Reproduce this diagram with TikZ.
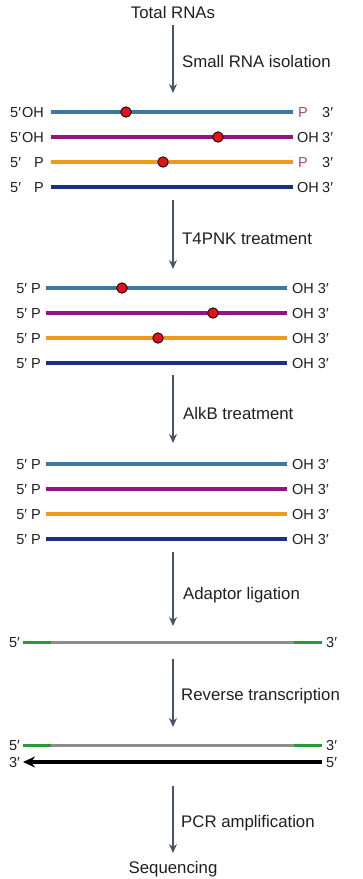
\documentclass[tikz,border=0pt]{standalone}
\usepackage{fontspec}
\setmainfont{Liberation Sans}
\usetikzlibrary{arrows.meta,positioning,calc}

\definecolor{rnablue}{HTML}{3B78A6}
\definecolor{rnapurple}{HTML}{8E1782}
\definecolor{rnaorange}{HTML}{F29A17}
\definecolor{rnanavy}{HTML}{1E2D86}
\definecolor{adaptgreen}{HTML}{2A983A}
\definecolor{insertgray}{HTML}{8C8C8C}
\definecolor{arrowgray}{HTML}{4A5467}
\definecolor{lesionred}{HTML}{E5101B}
\definecolor{phosmag}{HTML}{B5427C}

\begin{document}
\begin{tikzpicture}[x=1pt,y=-1pt,
    steparrow/.style={draw=arrowgray,line width=2.4pt,-{Stealth[length=9pt,width=8pt]}},
    steplabel/.style={font=\fontsize{16.8}{19}\selectfont,text=black!88,anchor=west,
      inner sep=0pt,text height=12pt,text depth=0pt},
    endlabel/.style={font=\fontsize{14.5}{17}\selectfont,text=black!88,
      inner sep=0pt,text height=10.4pt,text depth=0pt},
    strand/.style={line width=3.6pt},
    lesion/.style={circle,fill=lesionred,draw=black,line width=0.8pt,
      minimum size=10.5pt,inner sep=0pt}]
  \useasboundingbox (0,0) rectangle (363,879);

  % start and end of the workflow
  \node[steplabel,anchor=center] (total) at (173,12) {Total RNAs};
  \node[steplabel,anchor=center] (seq) at (173,867) {Sequencing};

  % step arrows
  \coordinate (a1s) at (173,25);  \coordinate (a1e) at (173,93);
  \coordinate (a2s) at (173,200); \coordinate (a2e) at (173,269);
  \coordinate (a3s) at (173,375); \coordinate (a3e) at (173,443);
  \coordinate (a4s) at (173,552); \coordinate (a4e) at (173,626);
  \coordinate (a5s) at (173,659); \coordinate (a5e) at (173,727);
  \coordinate (a6s) at (173,786); \coordinate (a6e) at (173,853);
  \foreach \i in {1,...,6}
    \draw[steparrow] (a\i s) -- (a\i e);
  \node[steplabel] (isol) at (182,61) {Small RNA isolation};
  \node[steplabel] (pnk) at (182,238) {T4PNK treatment};
  \node[steplabel] (alkb) at (183,413) {AlkB treatment};
  \node[steplabel] (lig) at (183,593) {Adaptor ligation};
  \node[steplabel] (rt) at (181,694) {Reverse transcription};
  \node[steplabel] (pcr) at (181,821) {PCR amplification};

  % small RNAs after isolation
  \foreach \y/\c [count=\i] in {112/rnablue,137/rnapurple,162/rnaorange,187/rnanavy}{
    \coordinate (s1\i) at (51,\y);
    \coordinate (e1\i) at (293,\y);
    \draw[strand,\c] (s1\i) -- (e1\i);
    \node[endlabel,anchor=west] (f1\i) at (10,\y) {5′};
    \node[endlabel,anchor=west] (t1\i) at (322,\y) {3′};
  }
  \node[endlabel,anchor=east] (l11) at (44,112) {OH};
  \node[endlabel,anchor=east] (l12) at (44,137) {OH};
  \node[endlabel,anchor=east] (l13) at (44,162) {P};
  \node[endlabel,anchor=east] (l14) at (44,187) {P};
  \node[endlabel,anchor=west,text=phosmag] (r11) at (298,112) {P};
  \node[endlabel,anchor=west] (r12) at (297,137) {OH};
  \node[endlabel,anchor=west,text=phosmag] (r13) at (298,162) {P};
  \node[endlabel,anchor=west] (r14) at (297,187) {OH};
  \node[lesion] (d11) at (126,112) {};
  \node[lesion] (d12) at (218,137) {};
  \node[lesion] (d13) at (163,162) {};

  % after T4PNK and after AlkB
  \foreach \g/\y/\c [count=\i] in {2/288/rnablue,2/313/rnapurple,2/338/rnaorange,2/363/rnanavy,
                                   3/464/rnablue,3/489/rnapurple,3/514/rnaorange,3/539/rnanavy}{
    \coordinate (s\g\i) at (46,\y);
    \coordinate (e\g\i) at (287,\y);
    \draw[strand,\c] (s\g\i) -- (e\g\i);
    \node[endlabel,anchor=east] (l\g\i) at (41,\y) {5′ P};
    \node[endlabel,anchor=west] (r\g\i) at (292,\y) {OH 3′};
  }
  \node[lesion] (d21) at (122,288) {};
  \node[lesion] (d22) at (213,313) {};
  \node[lesion] (d23) at (158,338) {};

  % ligated RNA
  \coordinate (g1) at (23,642);  \coordinate (g2) at (51,642);
  \coordinate (g3) at (294,642); \coordinate (g4) at (322,642);
  \draw[strand,line width=3pt,insertgray] (g2) -- (g3);
  \draw[strand,line width=3pt,adaptgreen] (g1) -- (g2) (g3) -- (g4);
  \node[endlabel,anchor=east] (lg) at (20,642) {5′};
  \node[endlabel,anchor=west] (rg) at (326,642) {3′};

  % reverse transcription
  \coordinate (h1) at (23,745);  \coordinate (h2) at (51,745);
  \coordinate (h3) at (294,745); \coordinate (h4) at (322,745);
  \draw[strand,line width=3pt,insertgray] (h2) -- (h3);
  \draw[strand,line width=3pt,adaptgreen] (h1) -- (h2) (h3) -- (h4);
  \node[endlabel,anchor=east] (lh) at (20,745) {5′};
  \node[endlabel,anchor=west] (rh) at (326,745) {3′};
  \coordinate (c1) at (322,762); \coordinate (c2) at (23,762);
  \draw[line width=3.2pt,-{Stealth[length=12pt,width=11pt]}] (c1) -- (c2);
  \node[endlabel,anchor=east] (lc) at (20,762) {3′};
  \node[endlabel,anchor=west] (rc) at (326,762) {5′};
\end{tikzpicture}
\end{document}
